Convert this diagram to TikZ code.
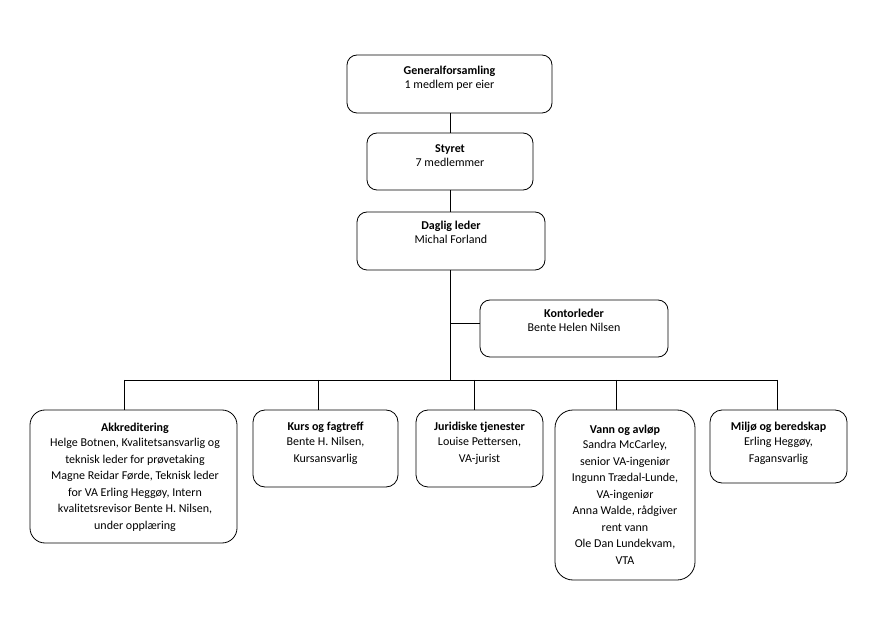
\documentclass[tikz,border=0pt]{standalone}
\usepackage{fontspec}
\setmainfont{Carlito}
\begin{document}
\begin{tikzpicture}[x=1pt,y=1pt,
  box/.style={draw, line width=0.8pt, inner sep=0pt, rounded corners=10pt},
  toptxt/.style={align=center, inner sep=0pt, anchor=base, font=\fontsize{12}{14}\selectfont},
  lowtxt/.style={align=center, inner sep=0pt, anchor=base, font=\fontsize{12}{16.5}\selectfont},
  conn/.style={draw, line width=0.8pt}]
\useasboundingbox (0,0) rectangle (883,627);
% boxes
\node[box, minimum width=205pt, minimum height=58pt] (gf) at (449.5,543) {};
\node[box, minimum width=166pt, minimum height=57pt] (st) at (450,465.5) {};
\node[box, minimum width=188pt, minimum height=58pt] (dl) at (451,386) {};
\node[box, minimum width=188pt, minimum height=57pt] (kl) at (574,298.5) {};
\node[box, rounded corners=15pt, minimum width=207pt, minimum height=133pt] (ak) at (133.5,150.5) {};
\node[box, rounded corners=12pt, minimum width=145pt, minimum height=77pt] (kf) at (325.5,178.5) {};
\node[box, rounded corners=12pt, minimum width=127pt, minimum height=77pt] (jt) at (479.5,178.5) {};
\node[box, rounded corners=18pt, minimum width=140pt, minimum height=170pt] (va) at (625,132) {};
\node[box, rounded corners=12pt, minimum width=137pt, minimum height=73pt] (mb) at (778.5,180.5) {};
% texts (anchor base = baseline of last line)
\node[toptxt] (gft) at (449.5,538) {\textbf{Generalforsamling}\\1 medlem per eier};
\node[toptxt] (stt) at (450,460) {\textbf{Styret}\\7 medlemmer};
\node[toptxt] (dlt) at (451,383) {\textbf{Daglig leder}\\Michal Forland};
\node[toptxt] (klt) at (574,295) {\textbf{Kontorleder}\\Bente Helen Nilsen};
\node[lowtxt] (akt) at (135,98) {\textbf{Akkreditering}\\[-1.5pt]Helge Botnen, Kvalitetsansvarlig og\\teknisk leder for prøvetaking\\Magne Reidar Førde, Teknisk leder\\for VA Erling Heggøy, Intern\\kvalitetsrevisor Bente H. Nilsen,\\under opplæring};
\node[lowtxt] (kft) at (325.5,165) {\textbf{Kurs og fagtreff}\\[-1.5pt]Bente H. Nilsen,\\Kursansvarlig};
\node[lowtxt] (jtt) at (479.5,165) {\textbf{Juridiske tjenester}\\[-1.5pt]Louise Pettersen,\\VA-jurist};
\node[lowtxt] (vat) at (625,63) {\textbf{Vann og avløp}\\[-1.5pt]Sandra McCarley,\\senior VA-ingeniør\\Ingunn Trædal-Lunde,\\VA-ingeniør\\Anna Walde, rådgiver\\rent vann\\Ole Dan Lundekvam,\\VTA};
\node[lowtxt] (mbt) at (778.5,165) {\textbf{Miljø og beredskap}\\[-1.5pt]Erling Heggøy,\\Fagansvarlig};
% coordinates
\coordinate (bus) at (450,247);
\coordinate (klj) at (450,304);
\coordinate (dak) at (124,247);
\coordinate (dkf) at (318,247);
\coordinate (djt) at (474,247);
\coordinate (dva) at (616,247);
\coordinate (dmb) at (777,247);
% connectors
\draw[conn] (gf.south -| bus) -- (st.north -| bus);
\draw[conn] (st.south -| bus) -- (dl.north -| bus);
\draw[conn] (dl.south -| bus) -- (bus);
\draw[conn] (klj) -- (klj -| kl.west);
\draw[conn] (dak) -- (dmb);
\draw[conn] (dak) -- (dak |- ak.north);
\draw[conn] (dkf) -- (dkf |- kf.north);
\draw[conn] (djt) -- (djt |- jt.north);
\draw[conn] (dva) -- (dva |- va.north);
\draw[conn] (dmb) -- (dmb |- mb.north);
\end{tikzpicture}
\end{document}
